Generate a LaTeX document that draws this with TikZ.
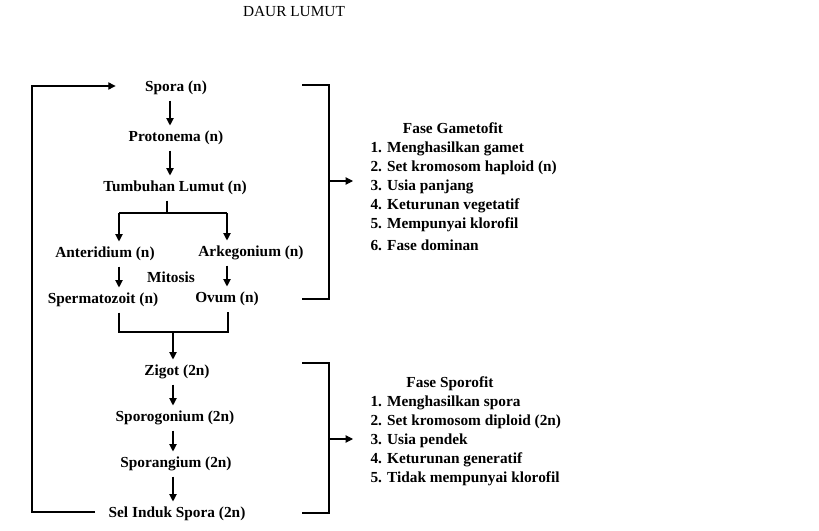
\documentclass[tikz,border=0pt]{standalone}
\usepackage{fontspec}
\setmainfont{Liberation Serif}
\usetikzlibrary{arrows.meta}

\begin{document}
\begin{tikzpicture}[x=0.75pt, y=-0.75pt, line width=0.8pt,
  font=\fontsize{11.5}{14.25}\selectfont\bfseries,
  arr/.style={-{Triangle[length=5.5pt,width=5.5pt]}},
  stage/.style={inner xsep=0pt, inner ysep=3.5pt, text height=8.4pt, text depth=2.6pt, yshift=-1.5pt},
  lst/.style={align=left, inner sep=0pt}]
\useasboundingbox (0,0) rectangle (819,531);
\node[font=\fontsize{11.5}{14}\selectfont\mdseries] (title) at (294,12) {DAUR LUMUT};
\node[stage] (spora) at (176,86) {Spora (n)};
\node[stage] (proto) at (176,136) {Protonema (n)};
\node[stage] (tumb) at (175,186) {Tumbuhan Lumut (n)};
\node[stage] (anter) at (105,252) {Anteridium (n)};
\node[stage] (arke) at (251,251) {Arkegonium (n)};
\node[stage] (mitosis) at (171,277) {Mitosis};
\node[stage] (sperm) at (103,298) {Spermatozoit (n)};
\node[stage] (ovum) at (227,297) {Ovum (n)};
\node[stage] (zigot) at (177,370) {Zigot (2n)};
\node[stage] (sporog) at (175,416) {Sporogonium (2n)};
\node[stage] (sporang) at (176,462) {Sporangium (2n)};
\node[stage] (sel) at (177,512) {Sel Induk Spora (2n)};
\node[stage] (gamtitle) at (453,128) {Fase Gametofit};
\node[lst, anchor=north west] (gamlist) at (370,141) {1. Menghasilkan gamet\\2. Set kromosom haploid (n)\\3. Usia panjang\\4. Keturunan vegetatif\\5. Mempunyai klorofil\\[2.25pt]6. Fase dominan};
\node[stage] (spotitle) at (450,382) {Fase Sporofit};
\node[lst, anchor=north west] (spolist) at (370,395) {1. Menghasilkan spora\\2. Set kromosom diploid (2n)\\3. Usia pendek\\4. Keturunan generatif\\5. Tidak mempunyai klorofil};
\coordinate (spine) at (170,0);
\coordinate (split) at (167,213);
\coordinate (lt) at (119,213);
\coordinate (rt) at (227,213);
\coordinate (jl) at (119,332);
\coordinate (jr) at (228,332);
\coordinate (jm) at (173,332);
\coordinate (back) at (32,0);
\coordinate (gtop) at (302,85);
\coordinate (gbot) at (302,299);
\coordinate (gmid) at (329,181);
\coordinate (stop) at (302,363);
\coordinate (sbot) at (302,513);
\coordinate (smid) at (329,439);
\draw[arr] (spora.south -| spine) -- (proto.north -| spine);
\draw[arr] (proto.south -| spine) -- (tumb.north -| spine);
\draw (tumb.south -| split) -- (split);
\draw (lt) -- (rt);
\draw[arr] (lt) -- (lt |- anter.north);
\draw[arr] (rt) -- (rt |- arke.north);
\draw[arr] (lt |- anter.south) -- (lt |- sperm.north);
\draw[arr] (rt |- arke.south) -- (rt |- ovum.north);
\draw (lt |- sperm.south) -- (jl) -- (jr) -- (jr |- ovum.south);
\draw[arr] (jm) -- (jm |- zigot.north);
\draw[arr] (zigot.south -| jm) -- (sporog.north -| jm);
\draw[arr] (sporog.south -| jm) -- (sporang.north -| jm);
\draw[arr] (sporang.south -| jm) -- (sel.north -| jm);
\draw[arr, shorten <=9.75pt, shorten >=21.75pt] ([yshift=1.5pt]sel.west) -- ([yshift=1.5pt]sel.west -| back) |- ([yshift=1.5pt]spora.west);
\draw (gtop) -- (gtop -| gmid) -- (gbot -| gmid) -- (gbot);
\draw[arr, shorten >=12.75pt] (gmid) -- (gmid -| gamlist.west);
\draw (stop) -- (stop -| smid) -- (sbot -| smid) -- (sbot);
\draw[arr, shorten >=12.75pt] (smid) -- (smid -| spolist.west);
\end{tikzpicture}
\end{document}
